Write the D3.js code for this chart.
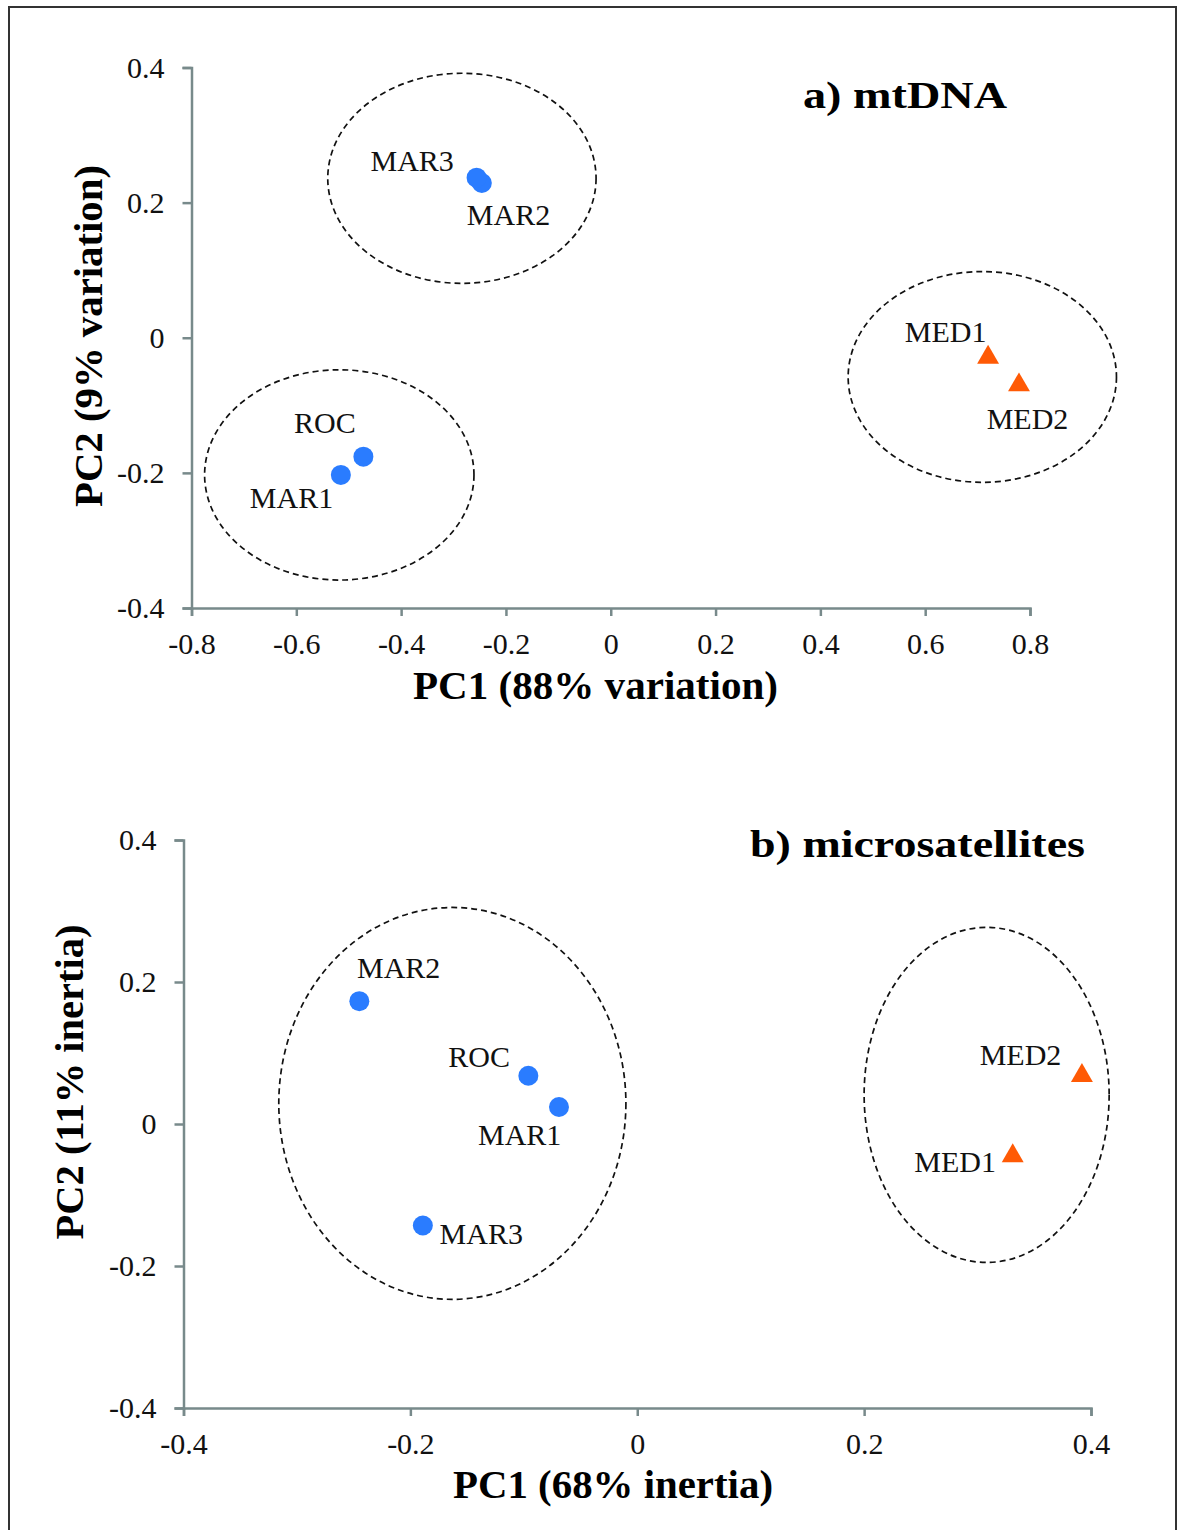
<!DOCTYPE html>
<html>
<head>
<meta charset="utf-8">
<script src="https://cdn.jsdelivr.net/npm/d3@7"></script>
<style>
  html, body { margin: 0; padding: 0; background: #fff; }
  svg { display: block; }
</style>
</head>
<body>
<svg id="chart" width="1182" height="1530"></svg>
<script>
// ---------------- DATA ----------------
const categories = ["MAR1", "MAR2", "MAR3", "ROC", "MED1", "MED2"];
const region = ["Atlantic", "Atlantic", "Atlantic", "Atlantic", "Mediterranean", "Mediterranean"];

// a) mtDNA PCA
const mtPC1 = [-0.515, -0.246, -0.256, -0.472, 0.720, 0.779];
const mtPC2 = [-0.203, 0.229, 0.237, -0.176, -0.029, -0.070];

// b) microsatellites
const msPC1 = [-0.069, -0.245, -0.189, -0.096, 0.331, 0.392];
const msPC2 = [0.024, 0.173, -0.143, 0.068, -0.045, 0.068];

// tick labels
const mtTicksX = [-0.8, -0.6, -0.4, -0.2, 0, 0.2, 0.4, 0.6, 0.8];
const mtTicksY = [-0.4, -0.2, 0, 0.2, 0.4];
const msTicksX = [-0.4, -0.2, 0, 0.2, 0.4];
const msTicksY = [-0.4, -0.2, 0, 0.2, 0.4];

// group ellipses (centre and semi-axes, in data units)
const mtClusterCx = [-0.284, -0.518, 0.709];
const mtClusterCy = [0.236, -0.203, -0.058];
const mtClusterRx = [0.256, 0.257, 0.256];
const mtClusterRy = [0.1555, 0.1556, 0.156];

const msClusterCx = [-0.163, 0.308];
const msClusterCy = [0.029, 0.041];
const msClusterRx = [0.153, 0.108];
const msClusterRy = [0.276, 0.236];

// titles
const mtTitle = "a) mtDNA";
const msTitle = "b) microsatellites";
const mtXLabel = "PC1 (88% variation)";
const mtYLabel = "PC2 (9% variation)";
const msXLabel = "PC1 (68% inertia)";
const msYLabel = "PC2 (11% inertia)";

// ---------------- LAYOUT / STYLE ----------------
const colors = { Atlantic: "#2a7cff", Mediterranean: "#ff5a05" };
const axisColor = "#788a8b";
const serif = "'Liberation Serif', 'Times New Roman', Times, serif";

const panels = [
  {
    pc1: mtPC1, pc2: mtPC2, ticksX: mtTicksX, ticksY: mtTicksY,
    xDomain: [-0.8, 0.8], yDomain: [-0.4, 0.4],
    xRange: [191.5, 1030], yRange: [608, 67.5],
    clusters: { cx: mtClusterCx, cy: mtClusterCy, rx: mtClusterRx, ry: mtClusterRy },
    title: mtTitle, titlePos: [803, 108], titleLen: 204,
    xLabel: mtXLabel, xLabelPos: [595.5, 699], xLabelLen: 365,
    yLabel: mtYLabel, yLabelPos: [102, 336], yLabelLen: 342,
    labelOffsets: {
      MAR1: ["end", -7.7, 33.4], MAR2: ["start", -15, 41.7], MAR3: ["end", -22.7, -6.3],
      ROC: ["start", -69.3, -23.7], MED1: ["end", -1.6, -15.3], MED2: ["start", -32.3, 44.4]
    }
  },
  {
    pc1: msPC1, pc2: msPC2, ticksX: msTicksX, ticksY: msTicksY,
    xDomain: [-0.4, 0.4], yDomain: [-0.4, 0.4],
    xRange: [183.5, 1091], yRange: [1408, 840],
    clusters: { cx: msClusterCx, cy: msClusterCy, rx: msClusterRx, ry: msClusterRy },
    title: msTitle, titlePos: [750, 857], titleLen: 335,
    xLabel: msXLabel, xLabelPos: [613, 1498], xLabelLen: 320,
    yLabel: msYLabel, yLabelPos: [83, 1082], yLabelLen: 315,
    labelOffsets: {
      MAR1: ["end", 2.4, 37.6], MAR2: ["start", -2.3, -23.3], MAR3: ["start", 16.7, 18.6],
      ROC: ["end", -18.3, -9], MED1: ["end", -16.7, 15.7], MED2: ["end", -20.6, -10.3]
    }
  }
];

const svg = d3.select("#chart");

// outer frame
svg.append("rect")
  .attr("x", 9).attr("y", 7).attr("width", 1167).attr("height", 1620)
  .attr("fill", "none").attr("stroke", "#333").attr("stroke-width", 2);

const fmt = d => d === 0 ? "0" : d.toFixed(1);

panels.forEach(p => {
  const x = d3.scaleLinear().domain(p.xDomain).range(p.xRange);
  const y = d3.scaleLinear().domain(p.yDomain).range(p.yRange);
  const g = svg.append("g");

  // axes
  const yAxis = d3.axisLeft(y).tickValues(p.ticksY).tickFormat(fmt)
    .tickSize(9).tickPadding(18);
  const xAxis = d3.axisBottom(x).tickValues(p.ticksX).tickFormat(fmt)
    .tickSize(8).tickPadding(17);

  const gx = g.append("g").attr("transform", `translate(0,${p.yRange[0]})`).call(xAxis);
  const gy = g.append("g").attr("transform", `translate(${p.xRange[0]},0)`).call(yAxis);

  [gx, gy].forEach(ax => {
    ax.selectAll("path.domain").attr("stroke", axisColor).attr("stroke-width", 2.5);
    ax.selectAll(".tick line").attr("stroke", axisColor).attr("stroke-width", 2.5);
    ax.selectAll(".tick text")
      .attr("fill", "#111")
      .style("font-family", serif)
      .style("font-size", "30px");
  });

  // ellipses
  const ell = p.clusters.cx.map((cx, i) => ({
    cx, cy: p.clusters.cy[i], rx: p.clusters.rx[i], ry: p.clusters.ry[i]
  }));
  g.selectAll("ellipse.cluster").data(ell).join("ellipse")
    .attr("class", "cluster")
    .attr("cx", d => x(d.cx))
    .attr("cy", d => y(d.cy))
    .attr("rx", d => Math.abs(x(d.cx + d.rx) - x(d.cx)))
    .attr("ry", d => Math.abs(y(d.cy + d.ry) - y(d.cy)))
    .attr("fill", "none")
    .attr("stroke", "#111")
    .attr("stroke-width", 1.7)
    .attr("stroke-dasharray", "6,4");

  // points
  const pts = categories.map((c, i) => ({ name: c, region: region[i], v1: p.pc1[i], v2: p.pc2[i] }));

  g.selectAll("circle.pt").data(pts.filter(d => d.region === "Atlantic")).join("circle")
    .attr("class", "pt")
    .attr("cx", d => x(d.v1)).attr("cy", d => y(d.v2))
    .attr("r", 10)
    .attr("fill", colors.Atlantic);

  const tri = d3.symbol().type(d3.symbolTriangle).size(208);
  g.selectAll("path.pt").data(pts.filter(d => d.region === "Mediterranean")).join("path")
    .attr("class", "pt")
    .attr("d", tri)
    .attr("transform", d => `translate(${x(d.v1)},${y(d.v2)})`)
    .attr("fill", colors.Mediterranean);

  // point labels
  g.selectAll("text.lbl").data(pts).join("text")
    .attr("class", "lbl")
    .attr("x", d => x(d.v1) + p.labelOffsets[d.name][1])
    .attr("y", d => y(d.v2) + p.labelOffsets[d.name][2])
    .attr("text-anchor", d => p.labelOffsets[d.name][0])
    .attr("fill", "#111")
    .style("font-family", serif)
    .style("font-size", "30px")
    .text(d => d.name);

  // panel title
  g.append("text")
    .attr("x", p.titlePos[0]).attr("y", p.titlePos[1])
    .attr("textLength", p.titleLen).attr("lengthAdjust", "spacingAndGlyphs")
    .attr("fill", "#000")
    .style("font-family", serif).style("font-weight", "bold").style("font-size", "38px")
    .text(p.title);

  // axis titles
  g.append("text")
    .attr("x", p.xLabelPos[0]).attr("y", p.xLabelPos[1])
    .attr("text-anchor", "middle")
    .attr("textLength", p.xLabelLen).attr("lengthAdjust", "spacingAndGlyphs")
    .attr("fill", "#000")
    .style("font-family", serif).style("font-weight", "bold").style("font-size", "39px")
    .text(p.xLabel);

  g.append("text")
    .attr("transform", `translate(${p.yLabelPos[0]},${p.yLabelPos[1]}) rotate(-90)`)
    .attr("text-anchor", "middle")
    .attr("textLength", p.yLabelLen).attr("lengthAdjust", "spacingAndGlyphs")
    .attr("fill", "#000")
    .style("font-family", serif).style("font-weight", "bold").style("font-size", "39px")
    .text(p.yLabel);
});
</script>
</body>
</html>
